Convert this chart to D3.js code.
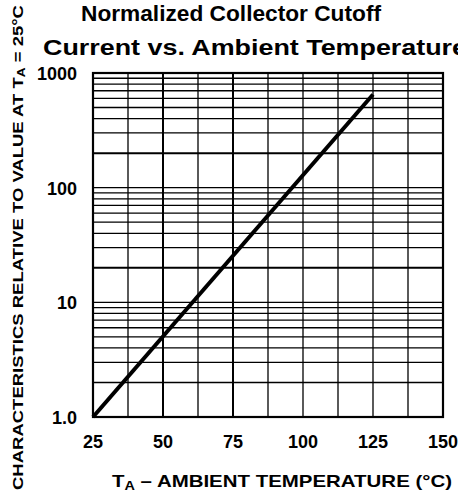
<!DOCTYPE html>
<html>
<head>
<meta charset="utf-8">
<script src="https://cdn.jsdelivr.net/npm/d3@7"></script>
<style>
  html, body { margin: 0; padding: 0; background: #fff; }
  svg { display: block; }
  text { font-family: "Liberation Sans", Arial, sans-serif; font-weight: bold; fill: #000; }
</style>
</head>
<body>
<svg id="chart" width="458" height="495"></svg>
<script>
"use strict";

/********/
/* data */
/********/

const temps = [25, 125];
const values = [1.0, 650];

const xTicks = [25, 50, 75, 100, 125, 150];
const xTickLabels = ["25", "50", "75", "100", "125", "150"];
const yTicks = [1, 10, 100, 1000];
const yTickLabels = ["1.0", "10", "100", "1000"];

const xGrid = d3.range(25, 150.1, 12.5);
const yGrid = [1, 2, 3, 4, 5, 6, 7, 8, 9,
  10, 20, 30, 40, 50, 60, 70, 80, 90,
  100, 200, 300, 400, 500, 600, 700, 800, 900, 1000];
const heavyX = [50, 75];
const heavyY = [20, 200];

/********/
/* view */
/********/

const svg = d3.select("#chart");

const x = d3.scaleLinear().domain([25, 150]).range([93, 443]);
const y = d3.scaleLog().domain([1, 1000]).range([417, 73]);

// grid
svg.append("g")
  .selectAll("line")
  .data(xGrid)
  .join("line")
  .attr("x1", d => x(d))
  .attr("x2", d => x(d))
  .attr("y1", y(1000))
  .attr("y2", y(1))
  .attr("stroke", "#000")
  .attr("stroke-width", d => (heavyX.includes(d) ? 2 : 1.3));

svg.append("g")
  .selectAll("line")
  .data(yGrid)
  .join("line")
  .attr("x1", x(25))
  .attr("x2", x(150))
  .attr("y1", d => y(d))
  .attr("y2", d => y(d))
  .attr("stroke", "#000")
  .attr("stroke-width", d => (heavyY.includes(d) ? 2 : 1.3));

// frame
svg.append("rect")
  .attr("x", x(25))
  .attr("y", y(1000))
  .attr("width", x(150) - x(25))
  .attr("height", y(1) - y(1000))
  .attr("fill", "none")
  .attr("stroke", "#000")
  .attr("stroke-width", 2.2);

// curve
const line = d3.line()
  .x(d => x(d[0]))
  .y(d => y(d[1]));

svg.append("path")
  .datum(d3.zip(temps, values))
  .attr("d", line)
  .attr("fill", "none")
  .attr("stroke", "#000")
  .attr("stroke-width", 4);

// tick labels
svg.append("g")
  .selectAll("text")
  .data(xTicks)
  .join("text")
  .attr("x", d => x(d))
  .attr("y", 448)
  .attr("text-anchor", "middle")
  .attr("font-size", 18)
  .text((d, i) => xTickLabels[i]);

svg.append("g")
  .selectAll("text")
  .data(yTicks)
  .join("text")
  .attr("x", 77)
  .attr("y", d => y(d) + 7)
  .attr("text-anchor", "end")
  .attr("font-size", 18)
  .text((d, i) => yTickLabels[i]);

// titles
svg.append("text")
  .attr("x", 81)
  .attr("y", 21)
  .attr("font-size", 22)
  .attr("textLength", 300)
  .attr("lengthAdjust", "spacingAndGlyphs")
  .text("Normalized Collector Cutoff");

svg.append("text")
  .attr("x", 43)
  .attr("y", 55)
  .attr("font-size", 22)
  .attr("textLength", 424)
  .attr("lengthAdjust", "spacingAndGlyphs")
  .text("Current vs. Ambient Temperature");

const xTitle = svg.append("text")
  .attr("x", 112)
  .attr("y", 487)
  .attr("font-size", 17)
  .attr("textLength", 340)
  .attr("lengthAdjust", "spacingAndGlyphs");
xTitle.append("tspan").text("T");
xTitle.append("tspan").attr("font-size", 12).attr("dy", 3).text("A");
xTitle.append("tspan").attr("dy", -3).text(" \u2013 AMBIENT TEMPERATURE (\u00b0C)");

const yTitle = svg.append("text")
  .attr("transform", "translate(23,490) rotate(-90)")
  .attr("font-size", 15)
  .attr("textLength", 485)
  .attr("lengthAdjust", "spacingAndGlyphs");
yTitle.append("tspan").text("CHARACTERISTICS RELATIVE TO VALUE AT T");
yTitle.append("tspan").attr("font-size", 11).attr("dy", 2).text("A");
yTitle.append("tspan").attr("dy", -2).text(" = 25\u00b0C");
</script>
</body>
</html>
